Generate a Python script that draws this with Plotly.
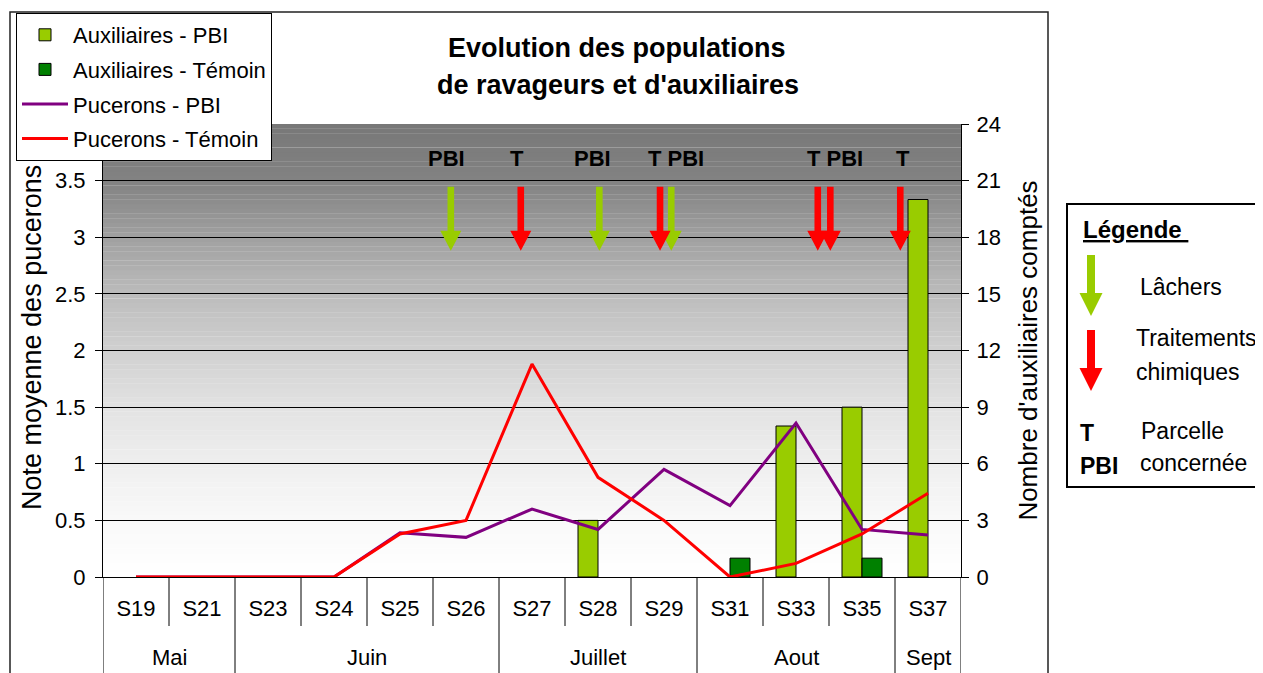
import plotly.graph_objects as go

# ---------------- data ----------------
weeks = ["S19", "S21", "S23", "S24", "S25", "S26", "S27", "S28", "S29", "S31", "S33", "S35", "S37"]
months = ["Mai", "Juin", "Juillet", "Aout", "Sept"]
month_weeks = [2, 4, 3, 3, 1]          # number of weeks in each month group

aux_pbi = [0, 0, 0, 0, 0, 0, 0, 3, 0, 0, 8, 9, 20]
aux_temoin = [0, 0, 0, 0, 0, 0, 0, 0, 0, 1, 0, 1, 0]
puc_pbi = [0, 0, 0, 0, 0.39, 0.35, 0.60, 0.42, 0.95, 0.63, 1.36, 0.42, 0.37]
puc_temoin = [0, 0, 0, 0, 0.38, 0.50, 1.88, 0.88, 0.50, 0, 0.12, 0.38, 0.74]

# events on the week axis (fractional week index)
lachers = [4.77, 7.02, 8.11]
traitements = [5.83, 7.94, 10.33, 10.52, 11.58]
event_labels = ["PBI", "T", "PBI", "T PBI", "T PBI", "T"]
event_label_pos = [4.70, 5.77, 6.91, 8.18, 10.59, 11.62]

# ---------------- layout helpers ----------------
W, H = 1263, 673
OFF = 8                                # page body margin
L, R, T, B = 103, 961, 124, 577        # plot area in screen pixels
FONT = "Arial, Liberation Sans, sans-serif"
GREEN = "#99CC00"
DARK = "#008000"
RED = "#FF0000"
PURPLE = "#800080"


def px(xs):
    return (xs - L) / (R - L)


def py(ys):
    return (B - ys) / (B - T)


xi = list(range(len(weeks)))


def nz(vals):
    return [v if v else None for v in vals]


fig = go.Figure()
fig.add_trace(go.Bar(x=xi, y=nz(aux_pbi), name="Auxiliaires - PBI", yaxis="y",
                     marker=dict(color=GREEN, line=dict(color="black", width=1)),
                     legendgroup="a"))
fig.add_trace(go.Bar(x=xi, y=nz(aux_temoin), name="Auxiliaires - Témoin", yaxis="y",
                     marker=dict(color=DARK, line=dict(color="black", width=1)),
                     legendgroup="b"))
fig.add_trace(go.Scatter(x=xi, y=puc_pbi, name="Pucerons - PBI", yaxis="y2", mode="lines",
                         line=dict(color=PURPLE, width=3), legendgroup="c"))
fig.add_trace(go.Scatter(x=xi, y=puc_temoin, name="Pucerons - Témoin", yaxis="y2", mode="lines",
                         line=dict(color=RED, width=3), legendgroup="d"))

shapes = []
# gradient background (grey at top -> white at bottom), in right-axis units
grad = [(0, 255), (3, 249), (6, 239), (9, 226), (12, 208), (15, 188), (18, 160), (21, 130), (24, 120)]
N = 96
for k in range(N):
    y0 = 24 * k / N
    y1 = 24 * (k + 1) / N
    ym = (y0 + y1) / 2
    for j in range(len(grad) - 1):
        if grad[j][0] <= ym <= grad[j + 1][0]:
            t = (ym - grad[j][0]) / (grad[j + 1][0] - grad[j][0])
            g = int(round(grad[j][1] + t * (grad[j + 1][1] - grad[j][1])))
            break
    shapes.append(dict(type="rect", xref="x", yref="y", x0=-0.5, x1=12.5, y0=y0, y1=y1 + 0.01,
                       fillcolor=f"rgb({g},{g},{g})", line=dict(width=0), layer="below"))

# category separators below the x axis
month_bounds = [-0.5]
for n in month_weeks:
    month_bounds.append(month_bounds[-1] + n)
for k in range(len(weeks) + 1):
    xb = k - 0.5
    long = any(abs(xb - mb) < 1e-9 for mb in month_bounds)
    shapes.append(dict(type="line", xref="x", yref="paper", x0=xb, x1=xb, y0=0,
                       y1=py(690) if long else py(626), line=dict(color="black", width=1)))

# arrows
arrow_path = "M-3.3,0 L3.3,0 L3.3,-44 L10.5,-44 L0,-64 L-10.5,-44 L-3.3,-44 Z"
for p in lachers:
    shapes.append(dict(type="path", xref="x", yref="y2", xsizemode="pixel", ysizemode="pixel",
                       xanchor=p, yanchor=3.445, path=arrow_path, fillcolor=GREEN,
                       line=dict(width=0), layer="above"))
for p in traitements:
    shapes.append(dict(type="path", xref="x", yref="y2", xsizemode="pixel", ysizemode="pixel",
                       xanchor=p, yanchor=3.445, path=arrow_path, fillcolor=RED,
                       line=dict(width=0), layer="above"))

# legend panel arrows (right)
panel_arrow = "M-4,0 L4,0 L4,-38 L11.5,-38 L0,-61 L-11.5,-38 L-4,-38 Z"
shapes.append(dict(type="path", xref="paper", yref="paper", xsizemode="pixel", ysizemode="pixel",
                   xanchor=px(1091), yanchor=py(255), path=panel_arrow, fillcolor=GREEN,
                   line=dict(width=0)))
shapes.append(dict(type="path", xref="paper", yref="paper", xsizemode="pixel", ysizemode="pixel",
                   xanchor=px(1091), yanchor=py(330), path=panel_arrow, fillcolor=RED,
                   line=dict(width=0)))
# legend panel box
shapes.append(dict(type="rect", xref="paper", yref="paper", x0=px(1067), x1=px(1300),
                   y0=py(487), y1=py(204), line=dict(color="black", width=2)))
# outer chart frame
shapes.append(dict(type="rect", xref="paper", yref="paper", x0=px(10), x1=px(1048),
                   y0=py(720), y1=py(12), line=dict(color="#222222", width=1.5)))

annotations = []


def ann(text, x, y, size, xref="paper", xanchor="center", angle=0):
    annotations.append(dict(text=text, xref=xref, yref="paper", x=x, y=y, textangle=angle,
                            xanchor=xanchor, yanchor="middle", showarrow=False,
                            font=dict(size=size, family=FONT, color="black")))


# title
ann("<b>Evolution des populations</b>", px(617), py(48), 27)
ann("<b>de ravageurs et d'auxiliaires</b>", px(618), py(85), 27)
# left axis title
ann("Note moyenne des pucerons", px(32), py(338), 27, angle=-90)
# event labels
for lab, p in zip(event_labels, event_label_pos):
    ann(f"<b>{lab}</b>", p, py(158), 22, xref="x")
# month labels
start = 0
for m, n in zip(months, month_weeks):
    ann(m, start + (n - 1) / 2, py(657), 22, xref="x")
    start += n
# legend panel texts
panel = [
    ("<b><u>Légende </u></b>", 1081, 229, 24),
    ("Lâchers", 1138, 287, 23),
    ("Traitements", 1134, 338, 23),
    ("chimiques", 1134, 372, 23),
    ("<b>T</b>", 1078, 433, 23),
    ("<b>PBI</b>", 1078, 466, 23),
    ("Parcelle", 1139, 431, 23),
    ("concernée", 1138, 463, 23),
]
for txt, xx, yy, fs in panel:
    ann(txt, px(xx), py(yy), fs, xanchor="left")

fig.update_layout(
    width=W, height=H,
    margin=dict(l=L - OFF, r=W - (R - OFF), t=T - OFF, b=H - (B - OFF), pad=0, autoexpand=False),
    paper_bgcolor="white", plot_bgcolor="rgba(0,0,0,0)",
    font=dict(family=FONT, size=22, color="black"),
    barmode="group", bargap=0.394, bargroupgap=0,
    showlegend=True,
    legend=dict(x=px(16), y=py(13), xanchor="left", yanchor="top",
                bgcolor="white", bordercolor="black", borderwidth=1,
                font=dict(size=22, family=FONT, color="black"),
                traceorder="grouped", tracegroupgap=3, itemwidth=46),
    xaxis=dict(range=[-0.5, 12.5], tickmode="array", tickvals=xi, ticktext=weeks,
               showline=True, linecolor="black", linewidth=1, ticks="", showgrid=False,
               zeroline=False, automargin=False,
               tickfont=dict(size=22, family=FONT, color="black"),
               ticklabelstandoff=12),
    yaxis=dict(side="right", range=[0, 24], tickmode="array", tickvals=list(range(0, 25, 3)),
               showline=True, linecolor="black", linewidth=1, ticks="outside", ticklen=7,
               tickcolor="black", showgrid=False, zeroline=False, ticklabelstandoff=3,
               automargin=False,
               tickfont=dict(size=22, family=FONT, color="black"),
               title=dict(text="Nombre d'auxiliaires comptés", standoff=18,
                          font=dict(size=26, family=FONT, color="black"))),
    yaxis2=dict(overlaying="y", side="left", anchor="x", range=[0, 4], tickmode="array",
                tickvals=[0, 0.5, 1, 1.5, 2, 2.5, 3, 3.5],
                ticktext=["0", "0.5", "1", "1.5", "2", "2.5", "3", "3.5"],
                showline=True, linecolor="black", linewidth=1, ticks="outside", ticklen=7,
                tickcolor="black", showgrid=True, gridcolor="black", gridwidth=1, zeroline=False,
                ticklabelstandoff=5, automargin=False,
                tickfont=dict(size=22, family=FONT, color="black")),
    shapes=shapes,
    annotations=annotations,
)

fig.write_html("out.html")
